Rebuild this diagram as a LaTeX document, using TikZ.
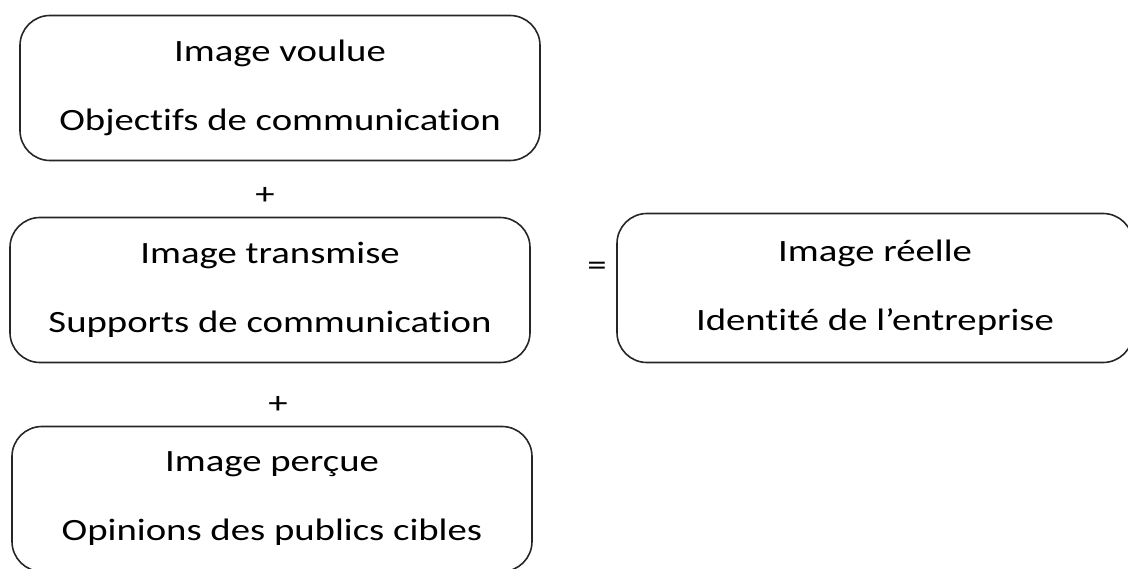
\documentclass[tikz,border=0pt]{standalone}
\usepackage{fontspec}
\setmainfont[Ligatures=NoCommon,FakeStretch=1.25]{Carlito}
\tikzset{
  % rounded box holding two lines of text
  imgbox/.style={
    draw=black!85,line width=1.6pt,rounded corners=30pt,
    minimum width=520pt,minimum height=145pt,inner sep=0pt,
    align=center,font=\fontsize{31}{69}\selectfont
  },
  % the + and = between the boxes
  opsign/.style={inner sep=0pt,font=\fontsize{31}{37}\selectfont},
}

\begin{document}
\begin{tikzpicture}[x=1pt,y=-1pt]
\useasboundingbox (0,0) rectangle (1128,569);
\clip (0,0) rectangle (1128,569);
\node[imgbox] (voulue) at (280,88) {Image voulue\\Objectifs de communication};
\node[imgbox] (transmise) at (270,290) {Image transmise\\Supports de communication};
\node[imgbox] (percue) at (272,499) {Image perçue\\Opinions des publics cibles};
\node[imgbox,minimum width=516pt,minimum height=149pt] (reelle) at (875,288) {Image réelle\\Identité de l’entreprise};
\node[opsign] (plusA) at (265,196) {+};
\node[opsign] (plusB) at (278,405) {+};
\node[opsign] (egal) at (597,269) {=};
\end{tikzpicture}
\end{document}
